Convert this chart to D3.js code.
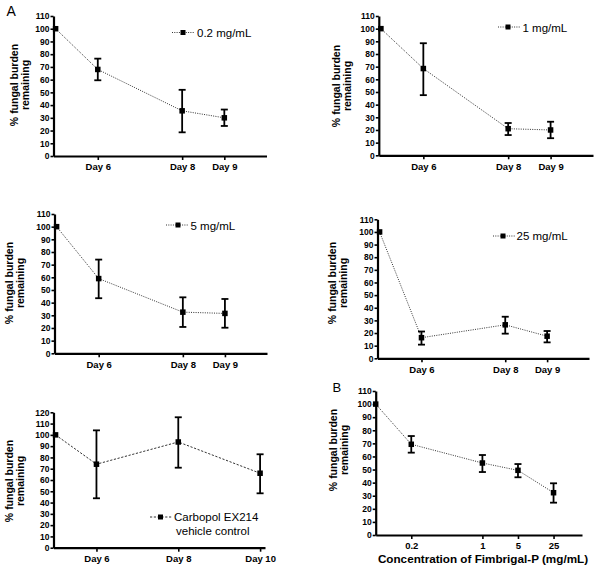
<!DOCTYPE html>
<html><head><meta charset="utf-8">
<script src="https://cdn.jsdelivr.net/npm/d3@7"></script>
<style>
body{margin:0;background:#fff}
svg{display:block;background:#fff}
text{font-family:"Liberation Sans",Arial,Helvetica,sans-serif}
</style>
</head><body>
<svg width="594" height="569"></svg>
<script>
// ---------- DATA ----------
// Panel A: time course; first point is the baseline (100%) at the start
const timeDays = [5, 6, 8, 9];
const timeTickDays = [6, 8, 9];
const timeTickLabels = ["Day 6", "Day 8", "Day 9"];
const yTicks110 = [0,10,20,30,40,50,60,70,80,90,100,110];
const yTicks120 = [0,10,20,30,40,50,60,70,80,90,100,110,120];

const mean02 = [100, 68, 35.5, 30];
const low02  = [null, 59.5, 18.6, 23.6];
const high02 = [null, 76.5, 52, 36.5];

const mean1 = [100, 68.5, 21, 20];
const low1  = [null, 47.5, 16, 13.5];
const high1 = [null, 88.5, 25.5, 26.5];

const mean5 = [100, 59, 32.5, 31.5];
const low5  = [null, 43.5, 20.8, 20.2];
const high5 = [null, 74, 44.2, 42.9];

const mean25 = [100, 16.3, 26.5, 17.5];
const low25  = [null, 10.8, 19.5, 12.6];
const high25 = [null, 21.2, 32.9, 21.6];

// Vehicle control
const vehDays = [5, 6, 8, 10];
const vehTickDays = [6, 8, 10];
const vehTickLabels = ["Day 6", "Day 8", "Day 10"];
const meanVeh = [100, 74, 93.7, 66];
const lowVeh  = [null, 43.8, 70.9, 48.2];
const highVeh = [null, 104, 115.6, 82.8];

// Panel B: dose response (position 0 = untreated baseline)
const concPos = [0, 1, 3, 4, 5];
const concTickPos = [1, 3, 4, 5];
const concTickLabels = ["0.2", "1", "5", "25"];
const meanConc = [100, 69.3, 55, 49.4, 32.3];
const lowConc  = [null, 62.9, 48.1, 44.1, 24.7];
const highConc = [null, 75.6, 61.1, 54.2, 39.5];

const legend02 = "0.2 mg/mL", legend1 = "1 mg/mL", legend5 = "5 mg/mL", legend25 = "25 mg/mL";
const legendVeh = ["Carbopol EX214", "vehicle control"];
const yLabelLines = ["% fungal burden", "remaining"];
const xLabelB = "Concentration of Fimbrigal-P (mg/mL)";

// ---------- LAYOUT ----------
const panels = [
  {xs: timeDays, mean: mean02, low: low02, high: high02, xTicks: timeTickDays, xLabels: timeTickLabels,
   yTicks: yTicks110, yMax: 110, xDomain: [4.95, 10], xRange: [53.5, 266.5], yRange: [156, 16],
   dash: "1,1.3", ylab: {x: 18, cy: 85}, leg: {x1: 172, x2: 195, mx: 183, my: 32.5, tx: 197, ty: 37, lines: [legend02]}},
  {xs: timeDays, mean: mean1, low: low1, high: high1, xTicks: timeTickDays, xLabels: timeTickLabels,
   yTicks: yTicks110, yMax: 110, xDomain: [4.95, 10], xRange: [378.8, 593], yRange: [155.3, 16],
   dash: "1,1.3", ylab: {x: 340, cy: 86}, leg: {x1: 498, x2: 520, mx: 508, my: 27, tx: 522.5, ty: 31.5, lines: [legend1]}},
  {xs: timeDays, mean: mean5, low: low5, high: high5, xTicks: timeTickDays, xLabels: timeTickLabels,
   yTicks: yTicks110, yMax: 110, xDomain: [4.95, 10], xRange: [54.5, 267], yRange: [353.3, 214],
   dash: "1,1.3", ylab: {x: 13, cy: 283}, leg: {x1: 166, x2: 189, mx: 178, my: 225, tx: 190.5, ty: 229.5, lines: [legend5]}},
  {xs: timeDays, mean: mean25, low: low25, high: high25, xTicks: timeTickDays, xLabels: timeTickLabels,
   yTicks: yTicks110, yMax: 110, xDomain: [4.95, 10], xRange: [377.5, 589], yRange: [358.3, 219.3],
   dash: "1,1.3", ylab: {x: 336, cy: 283}, leg: {x1: 493, x2: 515, mx: 503, my: 236, tx: 516.5, ty: 240, lines: [legend25]}},
  {xs: vehDays, mean: meanVeh, low: lowVeh, high: highVeh, xTicks: vehTickDays, xLabels: vehTickLabels,
   yTicks: yTicks120, yMax: 120, xDomain: [4.95, 10.12], xRange: [53.5, 265], yRange: [547.7, 412.3],
   dash: "2.2,1.6", ylab: {x: 13, cy: 481}, leg: {x1: 150, x2: 172, mx: 160.5, my: 517, tx: 174, ty: 521, lines: legendVeh}},
  {xs: concPos, mean: meanConc, low: lowConc, high: highConc, xTicks: concTickPos, xLabels: concTickLabels,
   yTicks: yTicks110, yMax: 110, xDomain: [0, 5.8], xRange: [375.7, 582], yRange: [535, 391],
   dash: "1,1.3", ylab: {x: 337, cy: 450}, leg: null, xTitle: {x: 483, y: 562.5, text: xLabelB}}
];

const svg = d3.select("svg");

panels.forEach(p => {
  const g = svg.append("g");
  const x = d3.scaleLinear().domain(p.xDomain).range(p.xRange);
  const y = d3.scaleLinear().domain([0, p.yMax]).range(p.yRange);

  // x axis
  const xa = g.append("g").attr("transform", `translate(0,${p.yRange[0]})`)
    .call(d3.axisBottom(x).tickValues(p.xTicks).tickFormat((d, i) => p.xLabels[i])
      .tickSize(4).tickPadding(3.5).tickSizeOuter(0));
  xa.select(".domain").attr("stroke", "#000").attr("stroke-width", 2.2);
  xa.selectAll(".tick line").attr("stroke", "#000").attr("stroke-width", 1.6);
  xa.selectAll(".tick text").attr("fill", "#000").style("font-size", "9.5px").style("font-weight", "bold")
    .style("font-family", '"Liberation Sans",Arial,sans-serif');

  // y axis
  const ya = g.append("g").attr("transform", `translate(${p.xRange[0]},0)`)
    .call(d3.axisLeft(y).tickValues(p.yTicks).tickSize(3).tickPadding(1).tickSizeOuter(0));
  ya.select(".domain").attr("stroke", "#000").attr("stroke-width", 2.2);
  ya.selectAll(".tick line").attr("stroke", "#000").attr("stroke-width", 1.6);
  ya.selectAll(".tick text").attr("fill", "#000").style("font-size", "8.5px").style("font-weight", "bold")
    .style("font-family", '"Liberation Sans",Arial,sans-serif');

  // y label
  const yl = g.append("text").attr("transform", `translate(${p.ylab.x},${p.ylab.cy}) rotate(-90)`)
    .attr("text-anchor", "middle").style("font-size", "10.5px").style("font-weight", "bold").attr("fill", "#000");
  yLabelLines.forEach((t, i) => yl.append("tspan").attr("x", 0).attr("dy", i === 0 ? 0 : 11).text(t));

  // connecting line
  const pts = p.xs.map((d, i) => [x(d), y(p.mean[i])]);
  g.append("path").attr("d", d3.line()(pts)).attr("fill", "none")
    .attr("stroke", "#333").attr("stroke-width", 1).attr("stroke-dasharray", p.dash);

  // error bars
  p.xs.forEach((d, i) => {
    if (p.low[i] == null) return;
    const cx = x(d), cw = 3.5;
    const eb = g.append("g").attr("stroke", "#000").attr("stroke-width", 1.8);
    eb.append("line").attr("x1", cx).attr("x2", cx).attr("y1", y(p.low[i])).attr("y2", y(p.high[i]));
    eb.append("line").attr("x1", cx - cw).attr("x2", cx + cw).attr("y1", y(p.low[i])).attr("y2", y(p.low[i]));
    eb.append("line").attr("x1", cx - cw).attr("x2", cx + cw).attr("y1", y(p.high[i])).attr("y2", y(p.high[i]));
  });

  // markers
  const ms = 5.5;
  g.selectAll("rect.pt").data(p.xs).enter().append("rect").attr("class", "pt")
    .attr("x", (d) => x(d) - ms / 2).attr("y", (d, i) => y(p.mean[i]) - ms / 2)
    .attr("width", ms).attr("height", ms).attr("fill", "#000");

  // legend
  if (p.leg) {
    const L = p.leg;
    g.append("line").attr("x1", L.x1).attr("x2", L.x2).attr("y1", L.my).attr("y2", L.my)
      .attr("stroke", "#333").attr("stroke-width", 1).attr("stroke-dasharray", p.dash);
    g.append("rect").attr("x", L.mx - 2.5).attr("y", L.my - 2.5).attr("width", 5).attr("height", 5).attr("fill", "#000");
    const lt = g.append("text").attr("x", L.tx).attr("y", L.ty).style("font-size", "11.5px").attr("fill", "#000");
    L.lines.forEach((t, i) => lt.append("tspan").attr("x", L.tx + (i === 0 ? 0 : 2)).attr("dy", i === 0 ? 0 : 14).text(t));
  }

  if (p.xTitle) {
    g.append("text").attr("x", p.xTitle.x).attr("y", p.xTitle.y).attr("text-anchor", "middle")
      .style("font-size", "11.7px").style("font-weight", "bold").attr("fill", "#000").text(p.xTitle.text);
  }
});

// panel letters
svg.append("text").attr("x", 6.5).attr("y", 15.5).style("font-size", "14px").attr("fill", "#000").text("A");
svg.append("text").attr("x", 332.5).attr("y", 392).style("font-size", "13px").attr("fill", "#000").text("B");
</script>
</body></html>
